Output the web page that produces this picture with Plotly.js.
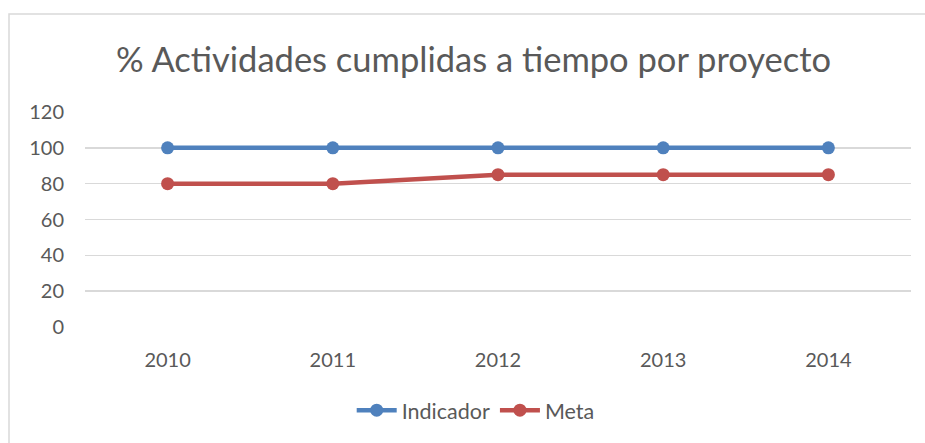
<!DOCTYPE html>
<html>
<head>
<meta charset="utf-8">
<script src="https://cdn.plot.ly/plotly-3.0.1.min.js"></script>
<style>
html,body{margin:0;padding:0;background:#fff;}
#chart{width:925px;height:443px;}
</style>
</head>
<body>
<div id="chart"></div>
<script>
const years = ["2010", "2011", "2012", "2013", "2014"];
const indicador = [100, 100, 100, 100, 100];
const meta = [80, 80, 85, 85, 85];
const yTicks = [0, 20, 40, 60, 80, 100, 120];

const FONT = "Lato, 'Open Sans', sans-serif";
const GRAY = "#595959";

const traces = [
  {
    x: years, y: indicador, name: "Indicador", type: "scatter", mode: "lines+markers",
    line: {color: "#4f81bd", width: 4.5},
    marker: {color: "#4f81bd", size: 13}
  },
  {
    x: years, y: meta, name: "Meta", type: "scatter", mode: "lines+markers",
    line: {color: "#c0504d", width: 4.5},
    marker: {color: "#c0504d", size: 13}
  }
];

const layout = {
  width: 925, height: 443,
  margin: {l: 85, r: 14, t: 112, b: 114, pad: 0},
  paper_bgcolor: "#fff", plot_bgcolor: "#fff",
  font: {family: FONT, color: GRAY},
  title: {
    text: "% Actividades cumplidas a tiempo por proyecto",
    font: {family: FONT, size: 34.5, color: GRAY},
    xref: "container", x: 0.512, xanchor: "center",
    yref: "container", y: 1 - 60/443, yanchor: "middle"
  },
  xaxis: {
    type: "category", range: [-0.5, 4.5],
    showgrid: false, zeroline: false, showline: false,
    ticks: "", tickfont: {family: FONT, size: 20, color: GRAY},
    ticklabelstandoff: 19
  },
  yaxis: {
    range: [0, 120], tickvals: yTicks, ticktext: yTicks.map(String),
    showgrid: true, gridcolor: "#d9d9d9", gridwidth: 1.5,
    zeroline: false, showline: false, ticks: "",
    tickfont: {family: FONT, size: 20, color: GRAY},
    ticklabelstandoff: 20
  },
  showlegend: true,
  legend: {
    orientation: "h", xref: "paper", x: 0.473, xanchor: "center",
    yref: "paper", y: (329 - 413) / 217, yanchor: "middle",
    font: {family: FONT, size: 21.5, color: GRAY},
    itemwidth: 40
  },
  shapes: [{
    type: "rect", xref: "paper", yref: "paper",
    x0: (9 - 85) / 826, x1: 1.3, y0: -0.7, y1: (329 - 13) / 217,
    line: {color: "#d9d9d9", width: 1.5}, fillcolor: "rgba(0,0,0,0)", layer: "below"
  }]
};

Plotly.newPlot("chart", traces, layout, {displayModeBar: false, staticPlot: true});
</script>
</body>
</html>
